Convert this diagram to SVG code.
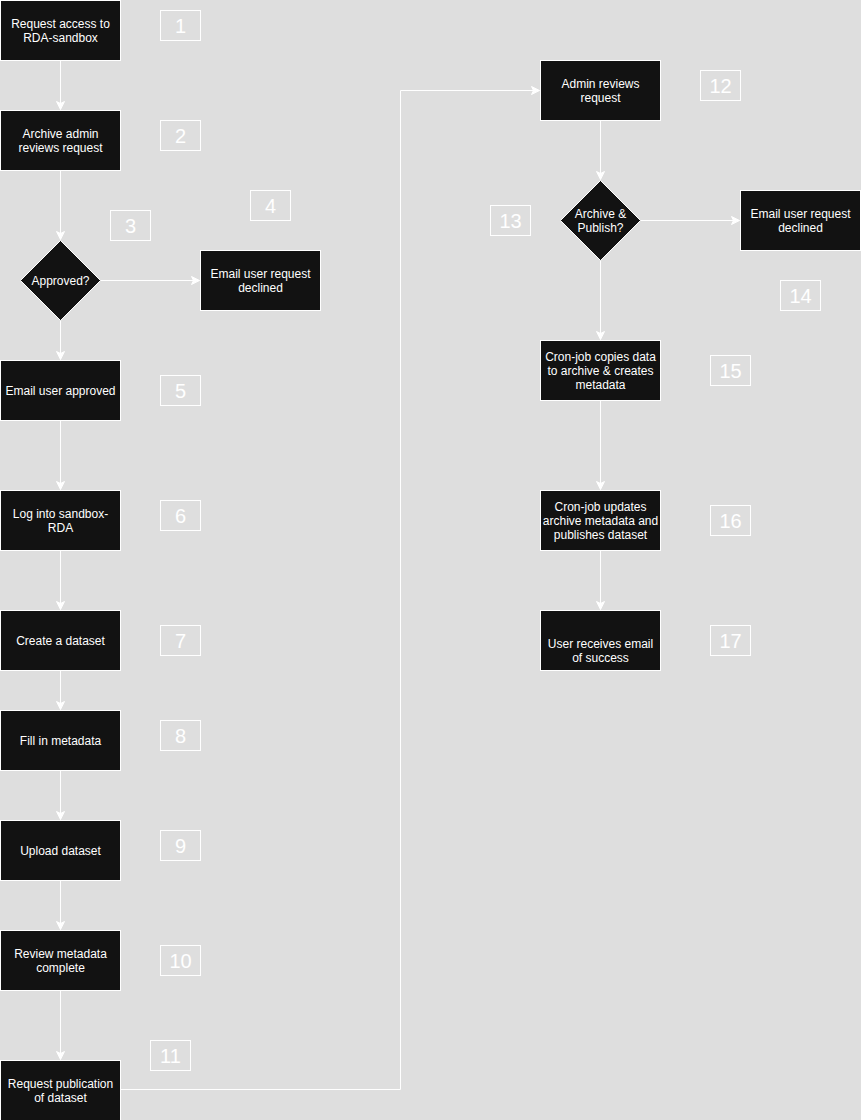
<svg xmlns="http://www.w3.org/2000/svg" width="861" height="1120" viewBox="0 0 861 1120">
<defs>
<marker id="arr" markerUnits="userSpaceOnUse" markerWidth="12" markerHeight="12" viewBox="-10 -6 12 12" refX="0" refY="0" orient="auto" overflow="visible">
<path d="M-8,-4 L0,0 L-8,4 L-6,0 Z" fill="#ffffff" stroke="#ffffff" stroke-width="1"/>
</marker>
<style>
.box{fill:#121212;stroke:#ffffff;stroke-width:1}
.t{font-family:"Liberation Sans",Arial,Helvetica,sans-serif;font-size:12px;fill:#ffffff;text-anchor:middle}
.num{fill:none;stroke:#ffffff;stroke-width:1}
.nt{font-family:"Liberation Sans",Arial,Helvetica,sans-serif;font-size:20px;fill:#ffffff;text-anchor:middle}
.c{fill:none;stroke:#ffffff;stroke-width:1;marker-end:url(#arr)}
</style>
</defs>
<rect x="0" y="0" width="861" height="1120" fill="#dedede"/>
<g id="connectors">
<path class="c" d="M60.5,60.5 L60.5,109.5"/>
<path class="c" d="M60.5,170.5 L60.5,239.5"/>
<path class="c" d="M100.5,280.5 L199.5,280.5"/>
<path class="c" d="M60.5,320.5 L60.5,359.5"/>
<path class="c" d="M60.5,420.5 L60.5,489.5"/>
<path class="c" d="M60.5,550.5 L60.5,609.5"/>
<path class="c" d="M60.5,670.5 L60.5,709.5"/>
<path class="c" d="M60.5,770.5 L60.5,819.5"/>
<path class="c" d="M60.5,880.5 L60.5,929.5"/>
<path class="c" d="M60.5,990.5 L60.5,1059.5"/>
<path class="c" d="M120.5,1089.5 L400.5,1089.5 L400.5,90.5 L539.5,90.5"/>
<path class="c" d="M600.5,120.5 L600.5,179.5"/>
<path class="c" d="M640.5,220.5 L739.5,220.5"/>
<path class="c" d="M600.5,260.5 L600.5,339.5"/>
<path class="c" d="M600.5,400.5 L600.5,489.5"/>
<path class="c" d="M600.5,550.5 L600.5,609.5"/>
</g>
<g id="n1"><rect class="box" x="0.5" y="0.5" width="120" height="60"/><text class="t" x="60.5" y="28">Request access to</text><text class="t" x="60.5" y="42">RDA-sandbox</text></g>
<g id="n2"><rect class="box" x="0.5" y="110.5" width="120" height="60"/><text class="t" x="60.5" y="138">Archive admin</text><text class="t" x="60.5" y="152">reviews request</text></g>
<g id="n3"><path class="box" d="M60.5,240.5 L100.5,280.5 L60.5,320.5 L20.5,280.5 Z"/><text class="t" x="60.5" y="285">Approved?</text></g>
<g id="n4"><rect class="box" x="200.5" y="250.5" width="120" height="60"/><text class="t" x="260.5" y="278">Email user request</text><text class="t" x="260.5" y="292">declined</text></g>
<g id="n5"><rect class="box" x="0.5" y="360.5" width="120" height="60"/><text class="t" x="60.5" y="395">Email user approved</text></g>
<g id="n6"><rect class="box" x="0.5" y="490.5" width="120" height="60"/><text class="t" x="60.5" y="518">Log into sandbox-</text><text class="t" x="60.5" y="532">RDA</text></g>
<g id="n7"><rect class="box" x="0.5" y="610.5" width="120" height="60"/><text class="t" x="60.5" y="645">Create a dataset</text></g>
<g id="n8"><rect class="box" x="0.5" y="710.5" width="120" height="60"/><text class="t" x="60.5" y="745">Fill in metadata</text></g>
<g id="n9"><rect class="box" x="0.5" y="820.5" width="120" height="60"/><text class="t" x="60.5" y="855">Upload dataset</text></g>
<g id="n10"><rect class="box" x="0.5" y="930.5" width="120" height="60"/><text class="t" x="60.5" y="958">Review metadata</text><text class="t" x="60.5" y="972">complete</text></g>
<g id="n11"><rect class="box" x="0.5" y="1060.5" width="120" height="60"/><text class="t" x="60.5" y="1088">Request publication</text><text class="t" x="60.5" y="1102">of dataset</text></g>
<g id="n12"><rect class="box" x="540.5" y="60.5" width="120" height="60"/><text class="t" x="600.5" y="88">Admin reviews</text><text class="t" x="600.5" y="102">request</text></g>
<g id="n13"><path class="box" d="M600.5,180.5 L640.5,220.5 L600.5,260.5 L560.5,220.5 Z"/><text class="t" x="600.5" y="218">Archive &amp;</text><text class="t" x="600.5" y="232">Publish?</text></g>
<g id="n14"><rect class="box" x="740.5" y="190.5" width="120" height="60"/><text class="t" x="800.5" y="218">Email user request</text><text class="t" x="800.5" y="232">declined</text></g>
<g id="n15"><rect class="box" x="540.5" y="340.5" width="120" height="60"/><text class="t" x="600.5" y="361">Cron-job copies data</text><text class="t" x="600.5" y="375">to archive &amp; creates</text><text class="t" x="600.5" y="389">metadata</text></g>
<g id="n16"><rect class="box" x="540.5" y="490.5" width="120" height="60"/><text class="t" x="600.5" y="511">Cron-job updates</text><text class="t" x="600.5" y="525">archive metadata and</text><text class="t" x="600.5" y="539">publishes dataset</text></g>
<g id="n17"><rect class="box" x="540.5" y="610.5" width="120" height="60"/><text class="t" x="600.5" y="648">User receives email</text><text class="t" x="600.5" y="662">of success</text></g>
<g id="l1"><rect class="num" x="160.5" y="10.5" width="40" height="30"/><text class="nt" x="180.5" y="32.5">1</text></g>
<g id="l2"><rect class="num" x="160.5" y="120.5" width="40" height="30"/><text class="nt" x="180.5" y="142.5">2</text></g>
<g id="l3"><rect class="num" x="110.5" y="210.5" width="40" height="30"/><text class="nt" x="130.5" y="232.5">3</text></g>
<g id="l4"><rect class="num" x="250.5" y="190.5" width="40" height="30"/><text class="nt" x="270.5" y="212.5">4</text></g>
<g id="l5"><rect class="num" x="160.5" y="375.5" width="40" height="30"/><text class="nt" x="180.5" y="397.5">5</text></g>
<g id="l6"><rect class="num" x="160.5" y="500.5" width="40" height="30"/><text class="nt" x="180.5" y="522.5">6</text></g>
<g id="l7"><rect class="num" x="160.5" y="625.5" width="40" height="30"/><text class="nt" x="180.5" y="647.5">7</text></g>
<g id="l8"><rect class="num" x="160.5" y="720.5" width="40" height="30"/><text class="nt" x="180.5" y="742.5">8</text></g>
<g id="l9"><rect class="num" x="160.5" y="830.5" width="40" height="30"/><text class="nt" x="180.5" y="852.5">9</text></g>
<g id="l10"><rect class="num" x="160.5" y="945.5" width="40" height="30"/><text class="nt" x="180.5" y="967.5">10</text></g>
<g id="l11"><rect class="num" x="150.5" y="1040.5" width="40" height="30"/><text class="nt" x="170.5" y="1062.5">11</text></g>
<g id="l12"><rect class="num" x="700.5" y="70.5" width="40" height="30"/><text class="nt" x="720.5" y="92.5">12</text></g>
<g id="l13"><rect class="num" x="490.5" y="205.5" width="40" height="30"/><text class="nt" x="510.5" y="227.5">13</text></g>
<g id="l14"><rect class="num" x="780.5" y="280.5" width="40" height="30"/><text class="nt" x="800.5" y="302.5">14</text></g>
<g id="l15"><rect class="num" x="710.5" y="355.5" width="40" height="30"/><text class="nt" x="730.5" y="377.5">15</text></g>
<g id="l16"><rect class="num" x="710.5" y="505.5" width="40" height="30"/><text class="nt" x="730.5" y="527.5">16</text></g>
<g id="l17"><rect class="num" x="710.5" y="625.5" width="40" height="30"/><text class="nt" x="730.5" y="647.5">17</text></g>
</svg>
